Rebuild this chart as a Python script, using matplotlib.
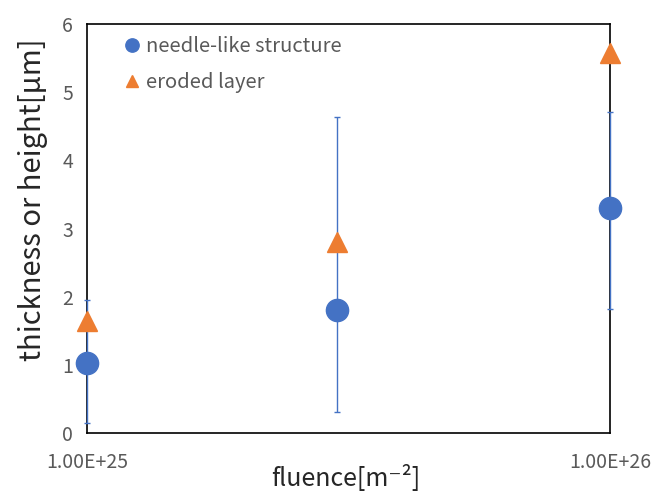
import numpy as np
import matplotlib
matplotlib.use("Agg")
import matplotlib.pyplot as plt

plt.rcParams['font.family'] = ['Noto Sans CJK JP', 'DejaVu Sans']

# data
fluence = [1e25, 3e25, 1e26]
needle = [1.03, 1.80, 3.30]
needle_err_low = [0.89, 1.49, 1.48]
needle_err_high = [0.92, 2.83, 1.41]
eroded = [1.65, 2.80, 5.57]

blue = "#4472C4"
orange = "#ED7D31"

fig = plt.figure(figsize=(6.57, 4.98), dpi=100)
ax = fig.add_axes([0.1324, 0.1305, 0.7961, 0.8213])

eb = ax.errorbar(fluence, needle, yerr=[needle_err_low, needle_err_high],
                 fmt="none", ecolor=blue, elinewidth=1, capsize=2.5, capthick=1, zorder=3)
for art in eb.lines[1] + eb.lines[2]:
    art.set_clip_on(False)
ax.plot(fluence, needle, "o", color=blue, ms=16, ls="none",
        label="needle-like structure", zorder=4, clip_on=False)
ax.plot(fluence, eroded, "^", color=orange, ms=15, ls="none",
        label="eroded layer", zorder=4, clip_on=False)

ax.set_xscale("log")
ax.set_xlim(1e25, 1e26)
ax.set_ylim(0, 6)
ax.set_xticks([1e25, 1e26])
ax.set_xticklabels(["1.00E+25", "1.00E+26"])
ax.xaxis.set_minor_locator(matplotlib.ticker.NullLocator())
ax.set_yticks(range(7))
ax.tick_params(length=0, labelsize=14, colors="#595959", pad=10)
ax.tick_params(axis="x", pad=14)

for s in ax.spines.values():
    s.set_color("black")
    s.set_linewidth(1.2)
    s.set_zorder(2)

ax.set_xlabel("fluence[m⁻²]", fontsize=18, color="#262626")
ax.xaxis.set_label_coords(0.495, -0.145)
ax.xaxis.label.set_va("bottom")
ax.set_ylabel("thickness or height[μm]", fontsize=21, color="#262626")
ax.yaxis.set_label_coords(-0.103, 0.57)
ax.yaxis.label.set_va("center")

leg = ax.legend(loc="upper left", frameon=False, fontsize=14.5, markerscale=0.6,
                handletextpad=0.1, handlelength=1.2, borderaxespad=0.2,
                bbox_to_anchor=(0.04, 1.0), labelspacing=0.75)
for t in leg.get_texts():
    t.set_color("#595959")

fig.savefig("out.png", dpi=100)
